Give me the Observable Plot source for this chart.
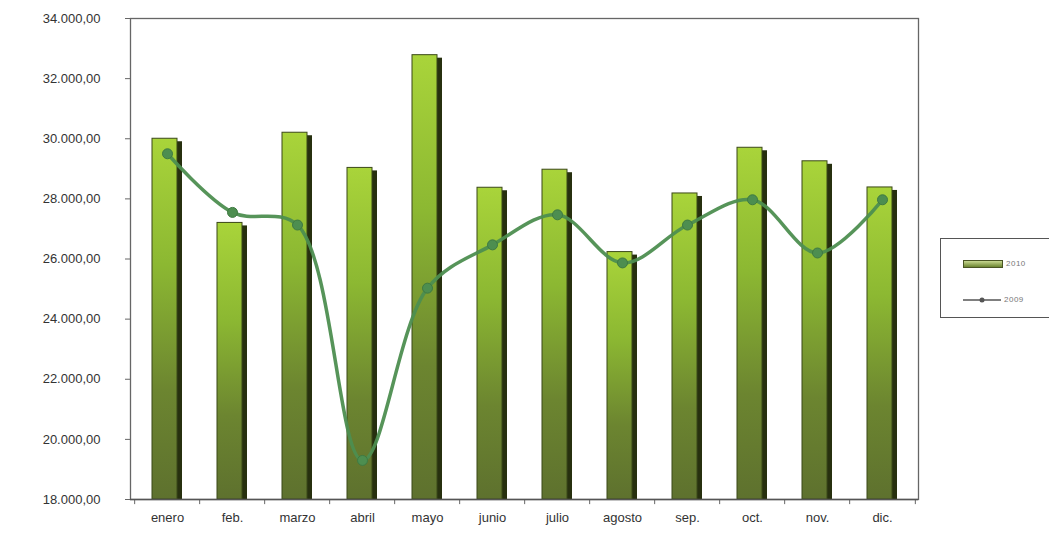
<!DOCTYPE html>
<html>
<head>
<meta charset="utf-8">
<script src="https://cdn.jsdelivr.net/npm/d3@7"></script>
<script src="https://cdn.jsdelivr.net/npm/@observablehq/plot@0.6"></script>
<style>
  html, body { margin: 0; padding: 0; background: #fff; }
  #wrap { position: relative; width: 1049px; height: 540px; font-family: "Liberation Sans", Arial, sans-serif; }
  #legend { position: absolute; left: 940px; top: 238px; width: 109px; height: 80px; border: 1px solid #555; border-right: none; box-sizing: border-box; background: #fff; }
  .item { position: absolute; left: 22px; display: flex; align-items: center; font-size: 8px; color: #777; }
  .item span { margin-left: 3px; letter-spacing: 0.5px; }
</style>
</head>
<body>
<div id="wrap">
  <div id="chart"></div>
  <div id="legend"></div>
</div>
<script>
const months = ["enero", "feb.", "marzo", "abril", "mayo", "junio", "julio", "agosto", "sep.", "oct.", "nov.", "dic."];
const barValues = [30000, 27200, 30200, 29030, 32780, 28370, 28970, 26230, 28180, 29700, 29250, 28380];
const lineValues = [29500, 27550, 27130, 19300, 25030, 26470, 27470, 25870, 27130, 27970, 26200, 27970];
const yTicks = [18000, 20000, 22000, 24000, 26000, 28000, 30000, 32000, 34000];
const seriesNames = ["2010", "2009"];

const barData = months.map((m, i) => ({month: m, value: barValues[i]}));
const lineData = months.map((m, i) => ({month: m, value: lineValues[i]}));

const fmt = d => d3.format(",.2f")(d).replace(/,/g, "#").replace(/\./g, ",").replace(/#/g, ".");

const width = 1049, height = 540;
const mL = 130, mR = 131;
const step = (width - mL - mR) / months.length;

const plot = Plot.plot({
  width, height,
  marginLeft: mL, marginRight: mR, marginTop: 18, marginBottom: 41,
  style: {fontFamily: "Liberation Sans, Arial, sans-serif", fontSize: "13px", color: "#333", background: "#fff"},
  x: {domain: months, paddingInner: 0.543, paddingOuter: 0.2715, label: null},
  y: {domain: [18000, 34000], label: null},
  marks: [
    Plot.frame({stroke: "#666", strokeWidth: 1.3}),
    // bar side (3D depth)
    Plot.barY(barData, {x: "month", y1: 18000, y2: "value", fill: "#27300f", insetLeft: 25, insetTop: 3}),
    // bar front face
    Plot.barY(barData, {x: "month", y1: 18000, y2: "value", fill: "url(#barGrad)", stroke: "#3b4818", strokeWidth: 1, insetRight: 5}),
    // y axis
    Plot.axisY({ticks: yTicks, tickFormat: fmt, tickSize: 5, tickPadding: 25, fontSize: 13, fill: "#333", stroke: "#666"}),
    // x axis labels
    Plot.axisX({tickSize: 0, tickPadding: 13, fontSize: 13, fill: "#333"}),
    // x tick marks at band boundaries
    Plot.ruleX(months, {x: d => d, dx: -step / 2, y1: 18000, y2: 17830, stroke: "#666"}),
    Plot.ruleX([months[months.length - 1]], {x: d => d, dx: step / 2, y1: 18000, y2: 17830, stroke: "#666"}),
    // bottom axis line
    Plot.ruleY([18000], {stroke: "#555", strokeWidth: 1.5}),
    // line series
    Plot.line(lineData, {x: "month", y: "value", curve: "catmull-rom", stroke: "#4d8e50", strokeWidth: 3.5, strokeOpacity: 0.95}),
    Plot.dot(lineData, {x: "month", y: "value", r: 5, fill: "#4d8e50", stroke: "#3f7a42", strokeWidth: 1})
  ]
});

// gradient definition for the bars
const svg = d3.select(plot);
const defs = svg.insert("defs", ":first-child");
const g = defs.append("linearGradient").attr("id", "barGrad").attr("x1", 0).attr("y1", 0).attr("x2", 0).attr("y2", 1);
g.append("stop").attr("offset", "0%").attr("stop-color", "#a9d43a");
g.append("stop").attr("offset", "35%").attr("stop-color", "#8cb832");
g.append("stop").attr("offset", "70%").attr("stop-color", "#6c8530");
g.append("stop").attr("offset", "100%").attr("stop-color", "#5e712e");

document.getElementById("chart").appendChild(plot);

// legend
const legend = d3.select("#legend");
const it1 = legend.append("div").attr("class", "item").style("top", "20px");
it1.append("div").style("width", "38px").style("height", "6px").style("background", "linear-gradient(#c8d890, #6c8530)").style("border", "1px solid #4a5524");
it1.append("span").text(seriesNames[0]);
const it2 = legend.append("div").attr("class", "item").style("top", "56px");
const s2 = it2.append("svg").attr("width", 38).attr("height", 8);
s2.append("line").attr("x1", 0).attr("x2", 38).attr("y1", 4).attr("y2", 4).attr("stroke", "#555").attr("stroke-width", 1.5);
s2.append("circle").attr("cx", 19).attr("cy", 4).attr("r", 2.5).attr("fill", "#555");
it2.append("span").text(seriesNames[1]);
</script>
</body>
</html>
